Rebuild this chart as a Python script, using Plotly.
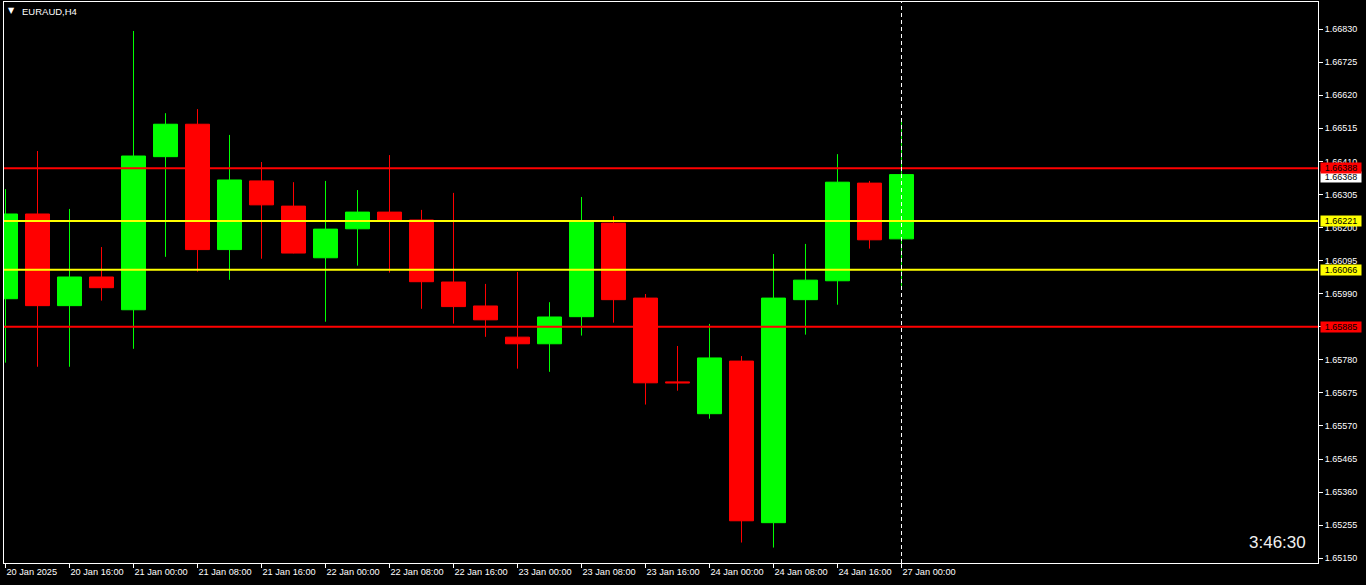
import plotly.graph_objects as go

# ---- data (EURAUD, H4) ----
bar_labels = ["20 Jan 08:00", "20 Jan 12:00", "20 Jan 16:00", "20 Jan 20:00",
              "21 Jan 00:00", "21 Jan 04:00", "21 Jan 08:00", "21 Jan 12:00",
              "21 Jan 16:00", "21 Jan 20:00", "22 Jan 00:00", "22 Jan 04:00",
              "22 Jan 08:00", "22 Jan 12:00", "22 Jan 16:00", "22 Jan 20:00",
              "23 Jan 00:00", "23 Jan 04:00", "23 Jan 08:00", "23 Jan 12:00",
              "23 Jan 16:00", "23 Jan 20:00", "24 Jan 00:00", "24 Jan 04:00",
              "24 Jan 08:00", "24 Jan 12:00", "24 Jan 16:00", "24 Jan 20:00",
              "27 Jan 00:00"]
open_ = [1.65974, 1.66243, 1.65952, 1.66043, 1.65939, 1.66425, 1.66528, 1.66130,
         1.66348, 1.66268, 1.66104, 1.66196, 1.66249, 1.66224, 1.66027, 1.65951,
         1.65852, 1.65831, 1.65917, 1.66214, 1.65976, 1.65710, 1.65609, 1.65776,
         1.65263, 1.65971, 1.66031, 1.66341, 1.66164]
high = [1.66322, 1.66443, 1.66259, 1.66138, 1.66824, 1.66563, 1.66576, 1.66494,
        1.66408, 1.66344, 1.66348, 1.66319, 1.66430, 1.66256, 1.66310, 1.66021,
        1.66059, 1.65963, 1.66297, 1.66236, 1.65989, 1.65824, 1.65894, 1.65792,
        1.66116, 1.66148, 1.66433, 1.66348, 1.66535]
low = [1.65771, 1.65758, 1.65758, 1.65968, 1.65815, 1.66107, 1.66060, 1.66034,
       1.66101, 1.66118, 1.65901, 1.66079, 1.66057, 1.65942, 1.65895, 1.65853,
       1.65752, 1.65742, 1.65857, 1.65898, 1.65638, 1.65682, 1.65593, 1.65200,
       1.65184, 1.65860, 1.65955, 1.66133, 1.66006]
close = [1.66243, 1.65952, 1.66043, 1.66009, 1.66427, 1.66528, 1.66130, 1.66351,
         1.66272, 1.66119, 1.66195, 1.66249, 1.66222, 1.66028, 1.65949, 1.65907,
         1.65831, 1.65916, 1.66218, 1.65971, 1.65707, 1.65707, 1.65786, 1.65269,
         1.65976, 1.66033, 1.66344, 1.66161, 1.66368]

x_tick_index = [0, 2, 4, 6, 8, 10, 12, 14, 16, 18, 20, 22, 24, 26, 28]
x_tick_text = ["20 Jan 2025", "20 Jan 16:00", "21 Jan 00:00", "21 Jan 08:00",
               "21 Jan 16:00", "22 Jan 00:00", "22 Jan 08:00", "22 Jan 16:00",
               "23 Jan 00:00", "23 Jan 08:00", "23 Jan 16:00", "24 Jan 00:00",
               "24 Jan 08:00", "24 Jan 16:00", "27 Jan 00:00"]
y_ticks = [1.65150, 1.65255, 1.65360, 1.65465, 1.65570, 1.65675, 1.65780, 1.65885,
           1.65990, 1.66095, 1.66200, 1.66305, 1.66410, 1.66515, 1.66620, 1.66725,
           1.66830]

level_prices = [1.66388, 1.66221, 1.66066, 1.65885]
level_colors = ["#FF0000", "#FFFF00", "#FFFF00", "#FF0000"]
bid_price = close[-1]

symbol_title = "EURAUD,H4"
countdown = "3:46:30"

FONT = "Liberation Sans"
x_idx = list(range(len(bar_labels)))

fig = go.Figure()
fig.add_trace(go.Candlestick(
    x=x_idx, open=open_, high=high, low=low, close=close,
    text=bar_labels,
    increasing=dict(line=dict(color="#00FF00", width=1), fillcolor="#00FF00"),
    decreasing=dict(line=dict(color="#FF0000", width=1), fillcolor="#FF0000"),
    whiskerwidth=0, showlegend=False,
))

shapes = []
for p, c in zip(level_prices, level_colors):
    shapes.append(dict(type="line", xref="paper", x0=0, x1=1, yref="y", y0=p, y1=p,
                       line=dict(color=c, width=2), layer="above"))
shapes.append(dict(type="line", xref="x", x0=x_idx[-1], x1=x_idx[-1], yref="paper",
                   y0=0, y1=1, line=dict(color="#FFFFFF", width=1, dash="4px,3px"),
                   layer="above"))

annotations = []
# bid label (white) first, then level labels on top
annotations.append(dict(xref="paper", x=1, xanchor="left", xshift=2, yref="y", y=bid_price,
                        yshift=-2, text=f"{bid_price:.5f}", showarrow=False,
                        bgcolor="#FFFFFF",
                        font=dict(family=FONT, size=9, color="#000000"),
                        width=38, height=8, borderpad=1))
for p, c in zip(level_prices, level_colors):
    annotations.append(dict(xref="paper", x=1, xanchor="left", xshift=2, yref="y", y=p,
                            text=f"{p:.5f}", showarrow=False, bgcolor=c,
                            font=dict(family=FONT, size=9, color="#000000"),
                            width=38, height=8, borderpad=1))
annotations.append(dict(xref="paper", x=0, xanchor="left", xshift=16, yref="paper", y=1,
                        yanchor="top", yshift=-2, text=symbol_title, showarrow=False,
                        font=dict(family=FONT, size=9.5, color="#FFFFFF")))
annotations.append(dict(xref="paper", x=0, xanchor="left", xshift=2, yref="paper", y=1,
                        yanchor="top", yshift=-2, text="▼", showarrow=False,
                        font=dict(family="DejaVu Sans", size=8, color="#FFFFFF")))
annotations.append(dict(xref="paper", x=1, xanchor="right", xshift=-10, yref="paper", y=0,
                        yanchor="bottom", yshift=9, text=countdown, showarrow=False,
                        font=dict(family=FONT, size=17, color="#F0F0F0")))

fig.update_layout(
    width=1366, height=585,
    margin=dict(l=4, r=48, t=2, b=22),
    paper_bgcolor="#000000", plot_bgcolor="#000000",
    shapes=shapes, annotations=annotations,
    boxgap=0.25, boxgroupgap=0,
    xaxis=dict(range=[-0.047, 41.016], tickvals=x_tick_index, ticktext=x_tick_text,
               showgrid=False, zeroline=False, showline=True, linecolor="#FFFFFF",
               linewidth=1, mirror=True, ticks="outside", ticklen=4, tickcolor="#FFFFFF",
               ticklabelposition="outside right",
               tickfont=dict(family=FONT, size=9.2, color="#FFFFFF"),
               rangeslider=dict(visible=False), fixedrange=True),
    yaxis=dict(side="right", range=[1.65135, 1.66916], tickvals=y_ticks,
               tickformat=".5f", showgrid=False, zeroline=False, showline=True,
               linecolor="#FFFFFF", linewidth=1, mirror=True, ticks="outside",
               ticklen=4, tickcolor="#FFFFFF",
               tickfont=dict(family=FONT, size=9, color="#FFFFFF"), fixedrange=True),
)

fig.write_html("out.html", config={"displayModeBar": False},
               post_script="document.body.style.margin='0px';"
                           "document.body.style.overflow='hidden';"
                           "document.body.style.background='#000';")
